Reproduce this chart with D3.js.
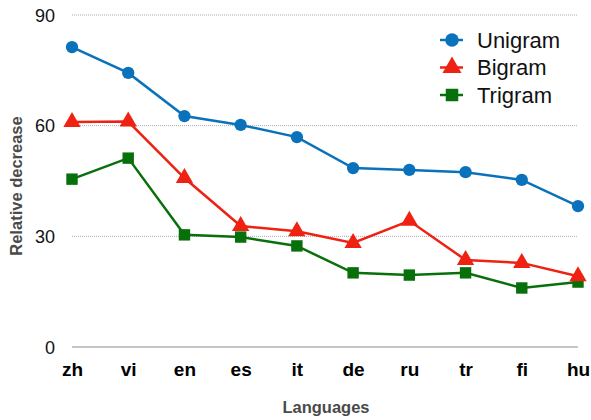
<!DOCTYPE html>
<html>
<head>
<meta charset="utf-8">
<script src="https://cdn.jsdelivr.net/npm/d3@7"></script>
<style>
  body { margin: 0; background: #fff; }
  svg { font-family: "Liberation Sans", Arial, Helvetica, sans-serif; }
</style>
</head>
<body>
<svg id="chart" width="591" height="420"></svg>
<script>
// languages on x axis
var languages = ["zh", "vi", "en", "es", "it", "de", "ru", "tr", "fi", "hu"];
var unigram = [81.3, 74.3, 62.6, 60.2, 56.9, 48.5, 48.0, 47.4, 45.3, 38.2];
var bigram  = [61.0, 61.1, 45.8, 32.8, 31.4, 28.2, 34.2, 23.6, 22.8, 19.2];
var trigram = [45.5, 51.2, 30.4, 29.8, 27.4, 20.1, 19.5, 20.1, 16.0, 17.6];
var yTicks = [0, 30, 60, 90];
var seriesNames = ["Unigram", "Bigram", "Trigram"];

var colors = ["#0a72ba", "#ee2112", "#08700a"];
var shapes = [d3.symbolCircle, d3.symbolTriangle, d3.symbolSquare];
var sizes = [120, 130, 130];

var series = [unigram, bigram, trigram].map(function(vals, i){
    return { name: seriesNames[i], values: vals, color: colors[i], shape: shapes[i], size: sizes[i] };
});

var svg = d3.select("#chart");

var x = d3.scalePoint()
    .domain(languages)
    .range([72, 578]);

var y = d3.scaleLinear()
    .domain([0, 90])
    .range([347, 15]);

// grid lines
svg.append("g")
    .selectAll("line")
    .data(yTicks.filter(function(d){ return d > 0; }))
    .enter().append("line")
    .attr("x1", 72)
    .attr("x2", 578)
    .attr("y1", function(d){ return y(d); })
    .attr("y2", function(d){ return y(d); })
    .attr("stroke", "#aaa")
    .attr("stroke-width", 1)
    .attr("stroke-dasharray", "1,1");

// baseline
svg.append("line")
    .attr("x1", 72).attr("x2", 578)
    .attr("y1", y(0)).attr("y2", y(0))
    .attr("stroke", "#b3b3b3")
    .attr("stroke-width", 1.5);

// y axis labels
var yAxis = d3.axisLeft(y).tickValues(yTicks).tickSize(0).tickPadding(0);
var gy = svg.append("g")
    .attr("transform", "translate(55,0)")
    .call(yAxis);
gy.select(".domain").remove();
gy.selectAll("text")
    .style("font-size", "18px")
    .style("font-family", "'Liberation Sans', Arial, sans-serif")
    .attr("fill", "#111")
    .attr("dy", "0.35em");

// x axis labels
var xAxis = d3.axisBottom(x).tickSize(0).tickPadding(0);
var gx = svg.append("g")
    .attr("transform", "translate(0,362)")
    .call(xAxis);
gx.select(".domain").remove();
gx.selectAll("text")
    .style("font-size", "19px")
    .style("font-weight", "bold")
    .style("font-family", "'Liberation Sans', Arial, sans-serif")
    .attr("fill", "#000")
    .attr("dy", "0.75em");

// axis titles
svg.append("text")
    .text("Languages")
    .attr("x", 326)
    .attr("y", 413)
    .attr("text-anchor", "middle")
    .style("font-size", "16.5px")
    .style("font-weight", "bold")
    .attr("fill", "#4a4a4a");

svg.append("text")
    .text("Relative decrease")
    .attr("transform", "translate(22,186) rotate(-90)")
    .attr("text-anchor", "middle")
    .style("font-size", "16.5px")
    .style("font-weight", "bold")
    .attr("fill", "#4a4a4a");

var line = d3.line()
    .x(function(d, i){ return x(languages[i]); })
    .y(function(d){ return y(d); });

// draw series in reverse so unigram is on top
series.slice().reverse().forEach(function(s){
    var g = svg.append("g");
    g.append("path")
        .datum(s.values)
        .attr("d", line)
        .attr("fill", "none")
        .attr("stroke", s.color)
        .attr("stroke-width", 2.5);
    g.selectAll("path.marker")
        .data(s.values)
        .enter().append("path")
        .attr("class", "marker")
        .attr("d", d3.symbol().type(s.shape).size(s.size))
        .attr("transform", function(d, i){ return "translate(" + x(languages[i]) + "," + y(d) + ")"; })
        .attr("fill", s.color);
});

// legend
var legend = svg.append("g")
    .selectAll("g")
    .data(series)
    .enter().append("g")
    .attr("transform", function(d, i){ return "translate(452," + (40 + i * 27.5) + ")"; });

legend.append("line")
    .attr("x1", -12).attr("x2", 11)
    .attr("stroke", function(d){ return d.color; })
    .attr("stroke-width", 2.5);
legend.append("path")
    .attr("d", function(d){ return d3.symbol().type(d.shape).size(d.size * 1.2)(); })
    .attr("fill", function(d){ return d.color; });
legend.append("text")
    .text(function(d){ return d.name; })
    .attr("x", 25)
    .attr("dy", "0.36em")
    .style("font-size", "22px")
    .attr("fill", "#111");
</script>
</body>
</html>
